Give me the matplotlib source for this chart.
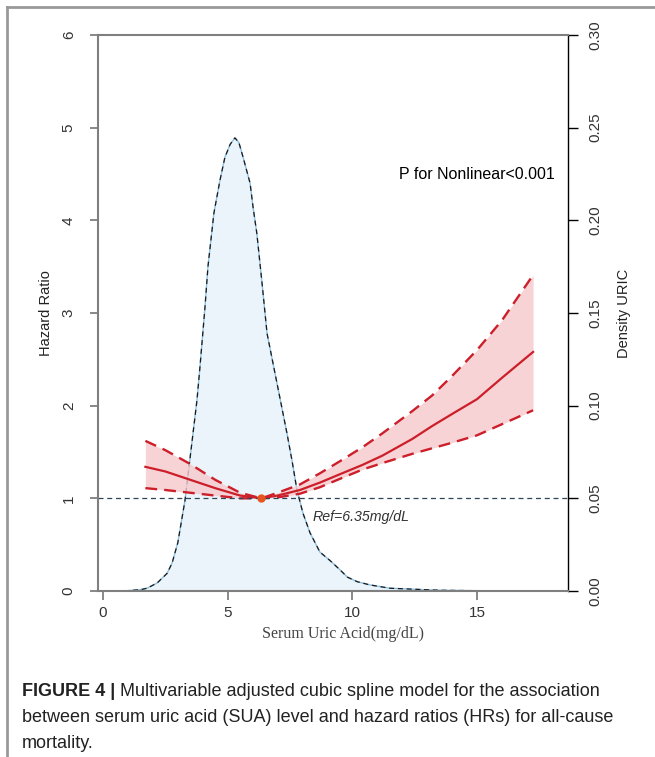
import matplotlib
matplotlib.use("Agg")
import matplotlib.pyplot as plt
import numpy as np

plt.rcParams["font.family"] = "Liberation Sans"

# density of serum uric acid (right axis)
dens_x = [0.5, 1.0, 1.5, 1.77, 2.17, 2.57, 2.77, 3.0, 3.29, 3.61, 3.77, 3.89,
          4.09, 4.21, 4.45, 4.69, 4.89, 5.1, 5.29, 5.45, 5.62, 5.9, 6.02, 6.17,
          6.38, 6.58, 6.98, 7.38, 7.58, 7.78, 8.02, 8.3, 8.7, 9.1, 9.5, 9.8,
          10.2, 10.7, 11.5, 12.4, 13.5, 14.8, 16.0, 17.9]
dens_y = [0.0, 0.0002, 0.0007, 0.0015, 0.0043, 0.0095, 0.015, 0.026, 0.049,
          0.085, 0.103, 0.121, 0.153, 0.175, 0.204, 0.2215, 0.234, 0.241,
          0.2445, 0.242, 0.234, 0.220, 0.207, 0.193, 0.166, 0.139, 0.112,
          0.085, 0.0705, 0.0545, 0.042, 0.0315, 0.021, 0.0165, 0.0115,
          0.0075, 0.005, 0.0033, 0.0015, 0.001, 0.0004, 0.0002, 0.0, 0.0]

# restricted cubic spline: hazard ratio and 95% CI
sua = [1.7, 2.5, 3.5, 4.5, 5.5, 6.35, 7.0, 7.9, 8.7, 9.5, 10.4, 11.2, 12.4,
       13.2, 14.0, 15.0, 16.0, 17.25]
hr = [1.34, 1.29, 1.20, 1.11, 1.03, 1.0, 1.03, 1.09, 1.17, 1.26, 1.36, 1.46,
      1.64, 1.78, 1.91, 2.07, 2.30, 2.58]
hr_upper = [1.62, 1.52, 1.37, 1.20, 1.06, 1.0, 1.06, 1.15, 1.27, 1.40, 1.55,
            1.70, 1.94, 2.11, 2.32, 2.60, 2.92, 3.41]
hr_lower = [1.11, 1.09, 1.06, 1.03, 1.0, 1.0, 1.01, 1.05, 1.12, 1.21, 1.31,
            1.38, 1.48, 1.54, 1.60, 1.68, 1.80, 1.95]
ref_x = 6.35

red = "#cc1f2a"
grey = "#7f7f7f"

fig = plt.figure(figsize=(6.55, 7.57), dpi=100)
ax = fig.add_axes([98/655, 1-591/757, (568-98)/655, (591-35)/757])
ax2 = ax.twinx()
ax.set_zorder(ax2.get_zorder() + 1)
ax.patch.set_visible(False)

# density on the right axis
ax2.fill_between(dens_x, dens_y, 0, color="#ebf4fb", lw=0)
ax2.plot(dens_x, dens_y, color="#8cc0e0", lw=1.0)
ax2.plot(dens_x, dens_y, color="#1a1a1a", lw=0.9, ls=(0, (4, 3)))
ax2.set_ylim(0, 0.30)
ax2.set_yticks([0, 0.05, 0.10, 0.15, 0.20, 0.25, 0.30])
ax2.set_yticklabels(["0.00", "0.05", "0.10", "0.15", "0.20", "0.25", "0.30"],
                    rotation=90, va="center", fontsize=11, color="#333333")
ax2.tick_params(axis="y", direction="out", length=7, width=1, color="black", pad=8)
ax2.set_ylabel("Density URIC", fontsize=10.5, color="#222222", labelpad=10)

# spline
ax.fill_between(sua, hr_lower, hr_upper, color="#f7c9cc", alpha=0.8, lw=0)
ax.plot(sua, hr, color=red, lw=1.6)
ax.plot(sua, hr_upper, color=red, lw=1.7, ls=(0, (5, 3)))
ax.plot(sua, hr_lower, color=red, lw=1.7, ls=(0, (5, 3)))
ax.axhline(1, color="#2f4656", lw=0.9, ls=(0, (4, 3)))
ax.plot([ref_x], [1], "o", color="#e8541e", ms=5, zorder=5)

ax.set_xlim(-0.2, 18.65)
ax.set_ylim(0, 6)
ax.set_xticks([0, 5, 10, 15])
ax.set_yticks([0, 1, 2, 3, 4, 5, 6])
ax.set_yticklabels([str(v) for v in range(7)], rotation=90, va="center",
                   fontsize=11, color="#333333")
ax.tick_params(axis="y", direction="out", length=6, width=1.3, color=grey, pad=10)
ax.tick_params(axis="x", direction="out", length=6.5, width=1.3, color=grey, pad=4,
               labelsize=11, labelcolor="#333333")
ax.set_ylabel("Hazard Ratio", fontsize=10.5, color="#222222", labelpad=6)

for s in ["left", "top", "bottom"]:
    ax.spines[s].set_color(grey)
    ax.spines[s].set_linewidth(1.5)
ax.spines["right"].set_visible(False)
for s in ["left", "top", "bottom"]:
    ax2.spines[s].set_visible(False)
ax2.spines["right"].set_color("black")
ax2.spines["right"].set_linewidth(1.0)

ax.text(18.13, 4.49, "P for Nonlinear<0.001", ha="right", va="center",
        fontsize=11.5, color="black")
ax.text(8.4, 0.80, "Ref=6.35mg/dL", ha="left", va="center", fontsize=10.2,
        style="italic", color="#333333")

fig.text(343/655, 1-634/757, "Serum Uric Acid(mg/dL)", ha="center", va="center",
         fontsize=11.5, family="Liberation Serif", color="#444444")

# page frame
fig.add_artist(plt.Line2D([7/655, 1], [1-7/757, 1-7/757], color="#999999", lw=2))
fig.add_artist(plt.Line2D([7/655, 7/655], [0, 1-7/757], color="#999999", lw=2))

# caption
renderer = fig.canvas.get_renderer()
x0 = 22/655
lines_y = [691, 718, 744]
cap_fs = 13
bold = fig.text(x0, 1-lines_y[0]/757, "FIGURE 4 | ", fontsize=cap_fs, weight="bold",
                va="center", color="#222222")
bb = bold.get_window_extent(renderer)
fig.text(bb.x1/655, 1-lines_y[0]/757,
         "Multivariable adjusted cubic spline model for the association",
         fontsize=cap_fs, va="center", color="#222222")
fig.text(x0, 1-lines_y[1]/757,
         "between serum uric acid (SUA) level and hazard ratios (HRs) for all-cause",
         fontsize=cap_fs, va="center", color="#222222")
fig.text(x0, 1-lines_y[2]/757, "mortality.", fontsize=cap_fs, va="center", color="#222222")

fig.savefig("out.png", dpi=100)
